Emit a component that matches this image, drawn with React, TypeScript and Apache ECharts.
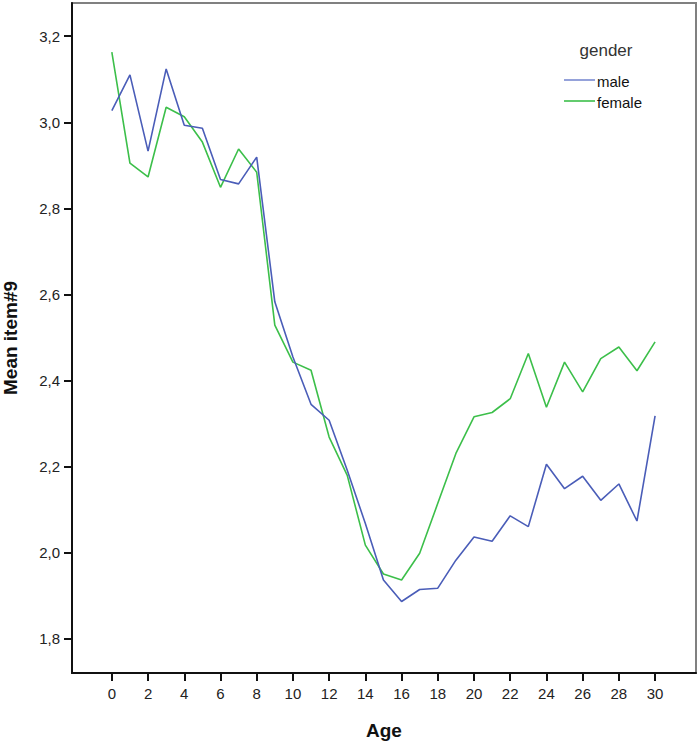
import React, { useEffect, useRef } from "react";
import * as echarts from "echarts";

const ages = [0,1,2,3,4,5,6,7,8,9,10,11,12,13,14,15,16,17,18,19,20,21,22,23,24,25,26,27,28,29,30];
const maleValues = [3.027,3.110,2.933,3.124,2.993,2.986,2.867,2.857,2.919,2.583,2.455,2.345,2.308,2.192,2.068,1.937,1.887,1.915,1.918,1.983,2.037,2.027,2.086,2.061,2.206,2.149,2.178,2.122,2.160,2.074,2.318];
const femaleValues = [3.163,2.905,2.873,3.035,3.013,2.954,2.849,2.938,2.884,2.529,2.443,2.424,2.269,2.180,2.018,1.951,1.937,1.999,2.115,2.231,2.316,2.326,2.358,2.463,2.338,2.443,2.374,2.451,2.478,2.423,2.490];
const xTicks = [0,2,4,6,8,10,12,14,16,18,20,22,24,26,28,30];
const yTicks = [1.8,2.0,2.2,2.4,2.6,2.8,3.0,3.2];
const seriesNames = ["male", "female"];

const FONT = "'Liberation Sans', Arial, sans-serif";
const MALE_COLOR = "#4a5db8";
const FEMALE_COLOR = "#3cbf4a";

export default function App() {
  const ref = useRef<HTMLDivElement>(null);
  useEffect(() => {
    if (!ref.current) return;
    const chart = echarts.init(ref.current, null, { renderer: "svg" });
    const toPairs = (vals: number[]) => ages.map((a, i) => [a, vals[i]]);
    chart.setOption({
      animation: false,
      backgroundColor: "#ffffff",
      grid: {
        left: 72,
        top: 3,
        right: 4,
        bottom: 72,
        containLabel: false,
        outerBoundsMode: "none",
        show: true,
        borderColor: "#808080",
        borderWidth: 2,
        backgroundColor: "transparent",
      },
      xAxis: {
        type: "value",
        min: -2.2,
        max: 32.26,
        name: "Age",
        nameLocation: "middle",
        nameGap: 48,
        nameTextStyle: { fontFamily: FONT, fontSize: 19, fontWeight: "bold", color: "#111" },
        axisLine: { show: true, onZero: false, lineStyle: { color: "#111", width: 2 } },
        axisTick: { show: true, customValues: xTicks, length: 8, lineStyle: { color: "#111", width: 2 } },
        axisLabel: {
          customValues: xTicks,
          fontFamily: FONT,
          fontSize: 15,
          color: "#222",
          margin: 13,
        },
        splitLine: { show: false },
      },
      yAxis: {
        type: "value",
        min: 1.721,
        max: 3.277,
        name: "Mean item#9",
        nameLocation: "middle",
        nameGap: 52,
        nameTextStyle: { fontFamily: FONT, fontSize: 19, fontWeight: "bold", color: "#111" },
        axisLine: { show: true, onZero: false, lineStyle: { color: "#111", width: 2 } },
        axisTick: { show: true, customValues: yTicks, length: 8, lineStyle: { color: "#111", width: 2 } },
        axisLabel: {
          customValues: yTicks,
          fontFamily: FONT,
          fontSize: 15,
          color: "#222",
          margin: 12,
          formatter: (v: number) => v.toFixed(1).replace(".", ","),
        },
        splitLine: { show: false },
      },
      series: [
        {
          name: seriesNames[0],
          type: "line",
          data: toPairs(maleValues),
          symbol: "none",
          lineStyle: { color: MALE_COLOR, width: 1.6 },
          itemStyle: { color: MALE_COLOR },
          z: 3,
        },
        {
          name: seriesNames[1],
          type: "line",
          data: toPairs(femaleValues),
          symbol: "none",
          lineStyle: { color: FEMALE_COLOR, width: 1.6 },
          itemStyle: { color: FEMALE_COLOR },
          z: 2,
        },
      ],
      graphic: [
        {
          type: "text",
          x: 606,
          y: 50,
          style: { text: "gender", fontFamily: FONT, fontSize: 17, fill: "#333", textAlign: "center", textVerticalAlign: "middle" },
        },
        {
          type: "line",
          shape: { x1: 564, y1: 80, x2: 595, y2: 80 },
          style: { stroke: "#95a2da", lineWidth: 2 },
        },
        {
          type: "text",
          x: 597,
          y: 81,
          style: { text: seriesNames[0], fontFamily: FONT, fontSize: 15, fill: "#111", textAlign: "left", textVerticalAlign: "middle" },
        },
        {
          type: "line",
          shape: { x1: 564, y1: 101, x2: 595, y2: 101 },
          style: { stroke: FEMALE_COLOR, lineWidth: 1.6 },
        },
        {
          type: "text",
          x: 597,
          y: 102,
          style: { text: seriesNames[1], fontFamily: FONT, fontSize: 15, fill: "#111", textAlign: "left", textVerticalAlign: "middle" },
        },
      ],
    });
    return () => chart.dispose();
  }, []);
  return (
    <div
      ref={ref}
      style={{ position: "fixed", left: 0, top: 0, width: 700, height: 745, background: "#fff" }}
    />
  );
}
